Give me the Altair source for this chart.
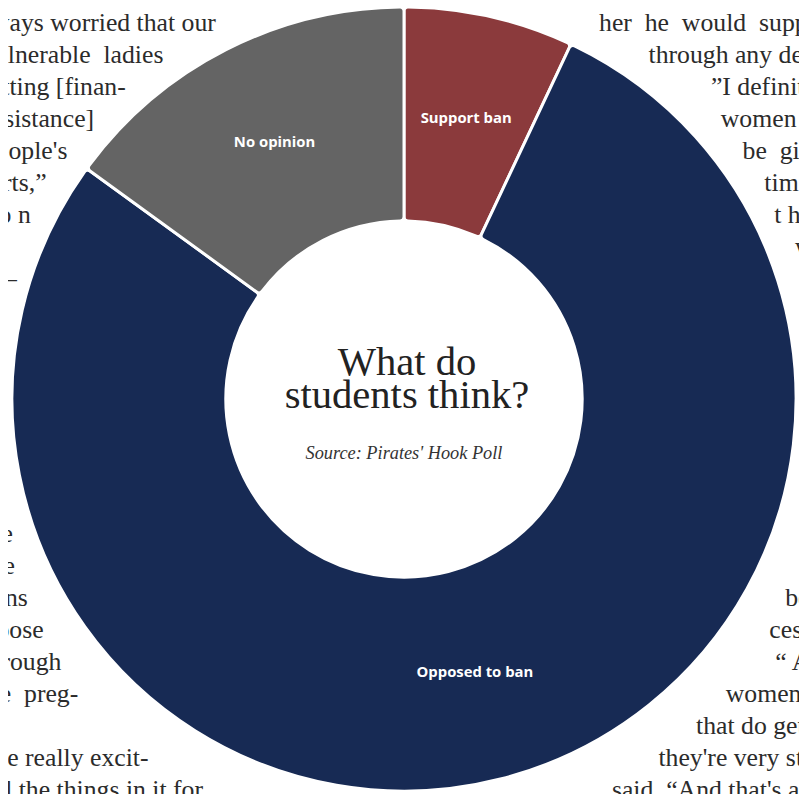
import altair as alt
import pandas as pd

# ---------------- data ----------------
categories = ["Support ban", "Opposed to ban", "No opinion"]
values = [7, 78, 15]
slice_colors = ["#8B3A3C", "#172A54", "#646464"]

title_lines = ["What do", "students think?"]
source_text = "Source: Pirates' Hook Poll"

# newspaper column fragments behind the graphic (line number, text)
left_lines = [
    (0, "always worried that our"),
    (1, "vulnerable\u00a0\u00a0ladies"),
    (2, "getting [finan-"),
    (3, "assistance]"),
    (4, "people's"),
    (5, "efforts,\u201d"),
    (6, "o\u00a0n"),
    (8, "\u2013"),
    (16, "e"),
    (17, "le"),
    (18, "ns"),
    (19, "choose"),
    (20, "through"),
    (21, "the\u00a0\u00a0preg-"),
    (23, "were really excit-"),
    (24, "all the things in it for"),
]
right_lines = [
    (0, "her\u00a0\u00a0he\u00a0\u00a0would\u00a0\u00a0support"),
    (1, "through any decision"),
    (2, "\u201dI definitely"),
    (3, "women"),
    (4, "be\u00a0\u00a0given"),
    (5, "time"),
    (6, "t\u00a0h"),
    (7, "w"),
    (18, "be"),
    (19, "cess"),
    (20, "\u201c A"),
    (21, "women"),
    (22, "that do get"),
    (23, "they're very st"),
    (24, "said. \u201cAnd that's a"),
]

# ---------------- layout ----------------
W, H = 799, 786
CX, CY = 400, 391          # donut centre (plot coords)
R_OUT, R_IN = 396, 180
LINE0, PITCH = 19, 32.3    # newspaper baselines (plot coords)
left_ends = [210, 157, 119, 87, 60, 39, 23, 9, 5, 7, 20, 36, 54, 71, 142, 197]
right_starts = [597, 647, 710, 720, 742, 764, 774, 795, 785, 769, 775, 725, 695, 657, 610]

df = pd.DataFrame({"category": categories, "value": values, "idx": list(range(len(values)))})

news_rows = []
for (ln, txt), xe in zip(left_lines, left_ends):
    news_rows.append({"text": txt, "px": xe, "py": LINE0 + ln * PITCH, "side": "L"})
for (ln, txt), xs in zip(right_lines, right_starts):
    news_rows.append({"text": txt, "px": xs, "py": LINE0 + ln * PITCH, "side": "R"})
news = pd.DataFrame(news_rows)

news_style = dict(font="Liberation Serif", fontSize=26, color="#2b2b2b", baseline="alphabetic")
news_left = alt.Chart(news[news.side == "L"]).mark_text(align="right", **news_style).encode(
    x=alt.X("px:Q", scale=None), y=alt.Y("py:Q", scale=None), text="text:N")
news_right = alt.Chart(news[news.side == "R"]).mark_text(align="left", **news_style).encode(
    x=alt.X("px:Q", scale=None), y=alt.Y("py:Q", scale=None), text="text:N")

theta = alt.Theta("value:Q", stack=True)
order = alt.Order("idx:Q")

arcs = alt.Chart(df).mark_arc(
    outerRadius=R_OUT, innerRadius=R_IN, stroke="white", strokeWidth=3, cornerRadius=4
).encode(
    theta=theta, order=order,
    color=alt.Color("category:N", scale=alt.Scale(domain=categories, range=slice_colors), legend=None),
    x=alt.value(CX), y=alt.value(CY),
)

labels = alt.Chart(df).mark_text(
    radius=288, dy=-3, font="Open Sans", fontWeight="bold", fontSize=15, color="white"
).encode(theta=theta, order=order, text="category:N", x=alt.value(CX), y=alt.value(CY))

title_df = pd.DataFrame({"t": title_lines, "i": [0, 1]})
title = alt.Chart(title_df).mark_text(
    font="Liberation Serif", fontSize=41, color="#222222", baseline="alphabetic", align="center"
).encode(
    text="t:N",
    x=alt.value(CX + 3),
    y=alt.Y("i:Q", scale=alt.Scale(domain=[0, 1], range=[367, 400]), axis=None),
)

source = alt.Chart(pd.DataFrame({"s": [source_text]})).mark_text(
    font="Liberation Serif", fontSize=18.5, fontStyle="italic", color="#333333",
    baseline="alphabetic", align="center"
).encode(text="s:N", x=alt.value(CX), y=alt.value(452))

chart = alt.layer(news_left, news_right, arcs, labels, title, source).properties(
    width=W, height=H, padding=0, autosize=alt.AutoSizeParams(type="none"),
    background="white"
).configure_view(strokeWidth=0)

chart.save("out.html", embed_options={"renderer": "svg", "actions": False})
